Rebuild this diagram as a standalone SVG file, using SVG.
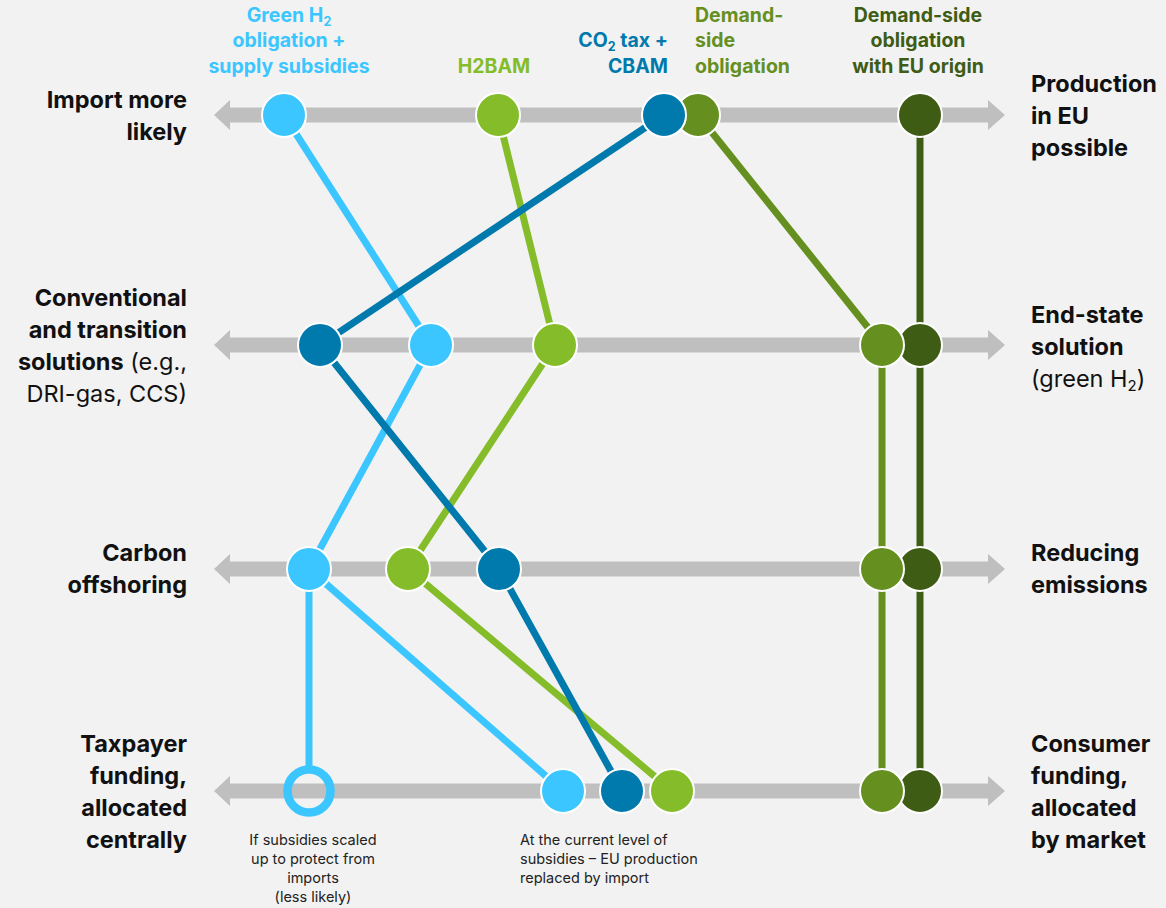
<svg xmlns="http://www.w3.org/2000/svg" width="1166" height="908" viewBox="0 0 1166 908">
<defs>
<style>
.bar{fill:#bfbfbf}
.lab{font-family:Inter,"Open Sans","Liberation Sans",sans-serif;font-size:23.5px;font-weight:bold;fill:#111}
.lab .n{font-weight:normal}
.hd{font-family:Inter,"Open Sans","Liberation Sans",sans-serif;font-size:19.5px;font-weight:bold}
.note{font-family:Inter,"Open Sans","Liberation Sans",sans-serif;font-size:14.5px;fill:#222}
.ln{fill:none;stroke-width:7;stroke-linecap:butt}
.nd{stroke:#fff;stroke-width:2}
.lb{stroke:#3bc6ff}.lbf{fill:#3bc6ff}
.hb{stroke:#85bc2a}.hbf{fill:#85bc2a}
.co{stroke:#0079ad}.cof{fill:#0079ad}
.ds{stroke:#658f1f}.dsf{fill:#658f1f}
.eu{stroke:#3e5c14}.euf{fill:#3e5c14}
</style>
</defs>
<rect width="1166" height="908" fill="#f2f2f2"/>
<g id="axes">
<path class="bar" d="M214,115 L230,100 L230,107.5 L988,107.5 L988,100 L1005,115 L988,130 L988,122.5 L230,122.5 L230,130 Z"/>
<path class="bar" d="M214,345 L230,330 L230,337.5 L988,337.5 L988,330 L1005,345 L988,360 L988,352.5 L230,352.5 L230,360 Z"/>
<path class="bar" d="M214,569 L230,554 L230,561.5 L988,561.5 L988,554 L1005,569 L988,584 L988,576.5 L230,576.5 L230,584 Z"/>
<path class="bar" d="M214,791 L230,776 L230,783.5 L988,783.5 L988,776 L1005,791 L988,806 L988,798.5 L230,798.5 L230,806 Z"/>
</g>
<g id="connectors">
<polyline class="ln lb" points="284,115 431,345 309,569 309,767"/>
<polyline class="ln lb" points="309,569 563,791"/>
<polyline class="ln hb" points="498,115 555,345 408,569 672,791"/>
<polyline class="ln co" points="664,115 320,345 499,569 622,791"/>
<polyline class="ln ds" points="698,115 882,345 882,791"/>
<polyline class="ln eu" points="920,115 920,791"/>
</g>
<g id="node-green-h2">
<circle class="nd lbf" cx="284" cy="115" r="22"/>
<circle class="nd lbf" cx="431" cy="345" r="22"/>
<circle class="nd lbf" cx="309" cy="569" r="22"/>
<circle cx="309" cy="791" r="21.5" fill="none" stroke="#3bc6ff" stroke-width="8.5"/>
<circle class="nd lbf" cx="563" cy="791" r="22"/>
</g>
<g id="node-h2bam">
<circle class="nd hbf" cx="498" cy="115" r="22"/>
<circle class="nd hbf" cx="555" cy="345" r="22"/>
<circle class="nd hbf" cx="408" cy="569" r="22"/>
<circle class="nd hbf" cx="672" cy="791" r="22"/>
</g>
<g id="node-eu-origin">
<circle class="nd euf" cx="920" cy="115" r="22"/>
<circle class="nd euf" cx="920" cy="345" r="22"/>
<circle class="nd euf" cx="920" cy="569" r="22"/>
<circle class="nd euf" cx="920" cy="791" r="22"/>
</g>
<g id="node-demand-side">
<circle class="nd dsf" cx="698" cy="115" r="22"/>
<circle class="nd dsf" cx="882" cy="345" r="22"/>
<circle class="nd dsf" cx="882" cy="569" r="22"/>
<circle class="nd dsf" cx="882" cy="791" r="22"/>
</g>
<g id="node-co2">
<circle class="nd cof" cx="664" cy="115" r="22"/>
<circle class="nd cof" cx="320" cy="345" r="22"/>
<circle class="nd cof" cx="499" cy="569" r="22"/>
<circle class="nd cof" cx="622" cy="791" r="22"/>
</g>
<g id="headers">
<text class="hd" fill="#3bc6ff" text-anchor="middle"><tspan x="289" y="22">Green H<tspan font-size="12.5" dy="4">2</tspan></tspan><tspan x="289" y="47">obligation +</tspan><tspan x="289" y="73">supply subsidies</tspan></text>
<text class="hd" fill="#85bc2a" text-anchor="middle" x="494" y="73">H2BAM</text>
<text class="hd" fill="#0079ad" text-anchor="end"><tspan x="668" y="47">CO<tspan font-size="12.5" dy="4">2</tspan><tspan dy="-4"> tax +</tspan></tspan><tspan x="668" y="73">CBAM</tspan></text>
<text class="hd" fill="#658f1f"><tspan x="695" y="22">Demand-</tspan><tspan x="695" y="47">side</tspan><tspan x="695" y="73">obligation</tspan></text>
<text class="hd" fill="#3e5c14" text-anchor="middle"><tspan x="918" y="22">Demand-side</tspan><tspan x="918" y="47">obligation</tspan><tspan x="918" y="73">with EU origin</tspan></text>
</g>
<g id="left-labels">
<text class="lab" text-anchor="end"><tspan x="187" y="108">Import more</tspan><tspan x="187" y="140">likely</tspan></text>
<text class="lab" text-anchor="end"><tspan x="187" y="306">Conventional</tspan><tspan x="187" y="338">and transition</tspan><tspan x="187" y="370">solutions<tspan class="n"> (e.g.,</tspan></tspan><tspan class="n" x="187" y="402">DRI-gas, CCS)</tspan></text>
<text class="lab" text-anchor="end"><tspan x="187" y="561">Carbon</tspan><tspan x="187" y="593">offshoring</tspan></text>
<text class="lab" text-anchor="end"><tspan x="187" y="752">Taxpayer</tspan><tspan x="187" y="784">funding,</tspan><tspan x="187" y="816">allocated</tspan><tspan x="187" y="848">centrally</tspan></text>
</g>
<g id="right-labels">
<text class="lab"><tspan x="1031" y="92">Production</tspan><tspan x="1031" y="124">in EU</tspan><tspan x="1031" y="156">possible</tspan></text>
<text class="lab"><tspan x="1031" y="323">End-state</tspan><tspan x="1031" y="355">solution</tspan><tspan class="n" x="1031" y="387">(green H<tspan font-size="15" dy="4">2</tspan><tspan dy="-4">)</tspan></tspan></text>
<text class="lab"><tspan x="1031" y="561">Reducing</tspan><tspan x="1031" y="593">emissions</tspan></text>
<text class="lab"><tspan x="1031" y="752">Consumer</tspan><tspan x="1031" y="784">funding,</tspan><tspan x="1031" y="816">allocated</tspan><tspan x="1031" y="848">by market</tspan></text>
</g>
<g id="notes">
<text class="note" text-anchor="middle"><tspan x="313" y="845">If subsidies scaled</tspan><tspan x="313" y="864">up to protect from</tspan><tspan x="313" y="883">imports</tspan><tspan x="313" y="902">(less likely)</tspan></text>
<text class="note"><tspan x="520" y="845">At the current level of</tspan><tspan x="520" y="864">subsidies – EU production</tspan><tspan x="520" y="883">replaced by import</tspan></text>
</g>
</svg>
